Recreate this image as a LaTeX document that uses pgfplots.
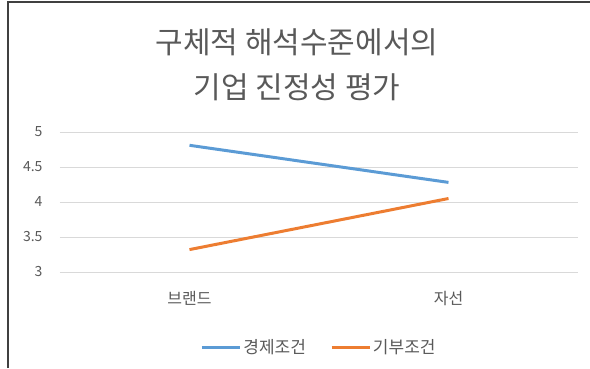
\documentclass[border=0pt]{standalone}
\usepackage{pgfplots}
\pgfplotsset{compat=1.18}
\usepackage{fontspec}
\setmainfont{Noto Sans CJK KR}
\definecolor{txt}{RGB}{89,89,89}
\definecolor{grd}{RGB}{217,217,217}
\definecolor{blu}{RGB}{91,155,213}
\definecolor{org}{RGB}{237,125,49}
\begin{document}
\begin{tikzpicture}[x=1pt,y=1pt]
\path[use as bounding box] (0,0) rectangle (590,368);
\draw[black!75,line width=1.5pt] (8,0) -- (8,366) -- (590,366);
\node[text=txt,font=\fontsize{30}{32}\selectfont] at (297,326) {구체적 해석수준에서의};
\node[text=txt,font=\fontsize{30}{32}\selectfont] at (297,281) {기업 진정성 평가};
\begin{axis}[
  at={(60pt,96pt)}, anchor=south west,
  scale only axis, width=518pt, height=140pt,
  xmin=-0.5, xmax=1.5, ymin=3, ymax=5,
  xtick={0,1}, xticklabels={브랜드,자선},
  ytick={3,3.5,4,4.5,5},
  yticklabels={3,3.5,4,4.5,5},
  axis line style={draw=none},
  major tick length=0pt,
  ymajorgrids, grid style={grd,line width=0.9pt},
  yticklabel style={text=txt,font=\fontsize{14}{16}\selectfont,xshift=-14pt},
  xticklabel style={text=txt,font=\fontsize{16}{18}\selectfont,yshift=-16pt},
  legend columns=2,
  legend style={draw=none,fill=none,at={(0.5,-0.54)},anchor=center,
    font=\fontsize{17}{19}\selectfont,text=txt,
    /tikz/every odd column/.append style={column sep=0pt},
    /tikz/every even column/.append style={column sep=22pt}},
  legend image code/.code={\draw[#1,line width=3pt] (0pt,0pt) -- (38pt,0pt);},
]
\addplot[blu,line width=3pt] coordinates {(0,4.81) (1,4.28)};
\addlegendentry{경제조건}
\addplot[org,line width=3pt] coordinates {(0,3.32) (1,4.05)};
\addlegendentry{기부조건}
\end{axis}
\end{tikzpicture}
\end{document}
